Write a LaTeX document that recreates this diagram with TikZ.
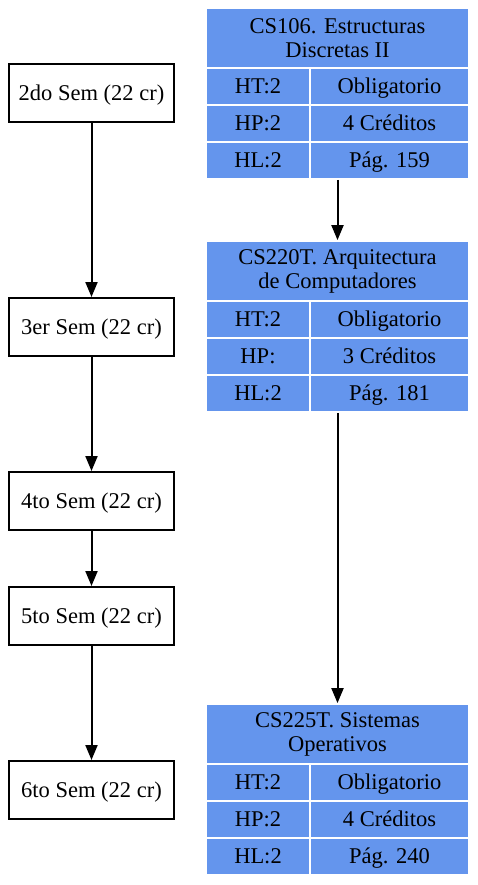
\documentclass[tikz,border=0pt]{standalone}
\usepackage{fontspec}
\setmainfont{Liberation Serif}
\usetikzlibrary{arrows.meta}
\definecolor{cornflower}{RGB}{100,149,237}

\begin{document}
\begin{tikzpicture}[
    x=1pt, y=-1pt,
    every node/.style={font=\fontsize{22.5}{24}\selectfont},
    sem/.style={rectangle, draw, line width=2pt, minimum width=165pt, minimum height=58pt, inner sep=0pt, text height=16pt, text depth=2pt},
    cell/.style={rectangle, fill=cornflower, draw=white, line width=1.8pt, inner sep=0pt},
    head/.style={cell, minimum width=263pt, minimum height=60pt, align=center},
    lcell/.style={cell, minimum width=104pt, minimum height=37pt, text height=16pt, text depth=2pt},
    rcell/.style={cell, minimum width=159pt, minimum height=37pt, text height=16pt, text depth=2pt},
    arrow/.style={line width=2pt, -{Triangle[length=15pt, width=12pt]}}
]
\useasboundingbox (0,0) rectangle (477,885);

% Semestres
\node[sem] (sem2) at (91.5,93.5) {2do Sem (22 cr)};
\node[sem] (sem3) at (91.5,327) {3er Sem (22 cr)};
\node[sem] (sem4) at (91.5,501) {4to Sem (22 cr)};
\node[sem] (sem5) at (91.5,616) {5to Sem (22 cr)};
\node[sem] (sem6) at (91.5,790) {6to Sem (22 cr)};

% CS106
\node[head] (cs106) at (337.5,38) {CS106. Estructuras\\Discretas II};
\node[lcell] (cs106ht) at (258,86.5) {HT:2};
\node[rcell] (cs106tipo) at (389.5,86.5) {Obligatorio};
\node[lcell] (cs106hp) at (258,123.5) {HP:2};
\node[rcell] (cs106cr) at (389.5,123.5) {4 Créditos};
\node[lcell] (cs106hl) at (258,160.5) {HL:2};
\node[rcell] (cs106pag) at (389.5,160.5) {Pág. 159};

% CS220T
\node[head] (cs220) at (337.5,271) {CS220T. Arquitectura\\de Computadores};
\node[lcell] (cs220ht) at (258,319.5) {HT:2};
\node[rcell] (cs220tipo) at (389.5,319.5) {Obligatorio};
\node[lcell] (cs220hp) at (258,356.5) {HP:};
\node[rcell] (cs220cr) at (389.5,356.5) {3 Créditos};
\node[lcell] (cs220hl) at (258,393.5) {HL:2};
\node[rcell] (cs220pag) at (389.5,393.5) {Pág. 181};

% CS225T
\node[head] (cs225) at (337.5,734) {CS225T. Sistemas\\Operativos};
\node[lcell] (cs225ht) at (258,782.5) {HT:2};
\node[rcell] (cs225tipo) at (389.5,782.5) {Obligatorio};
\node[lcell] (cs225hp) at (258,819.5) {HP:2};
\node[rcell] (cs225cr) at (389.5,819.5) {4 Créditos};
\node[lcell] (cs225hl) at (258,856.5) {HL:2};
\node[rcell] (cs225pag) at (389.5,856.5) {Pág. 240};

% Flechas
\draw[arrow] (sem2) -- (sem3);
\draw[arrow] (sem3) -- (sem4);
\draw[arrow] (sem4) -- (sem5);
\draw[arrow] (sem5) -- (sem6);
\draw[arrow] (cs106hl.south -| cs106.south) -- (cs220);
\draw[arrow] (cs220hl.south -| cs220.south) -- (cs225);

\end{tikzpicture}
\end{document}
